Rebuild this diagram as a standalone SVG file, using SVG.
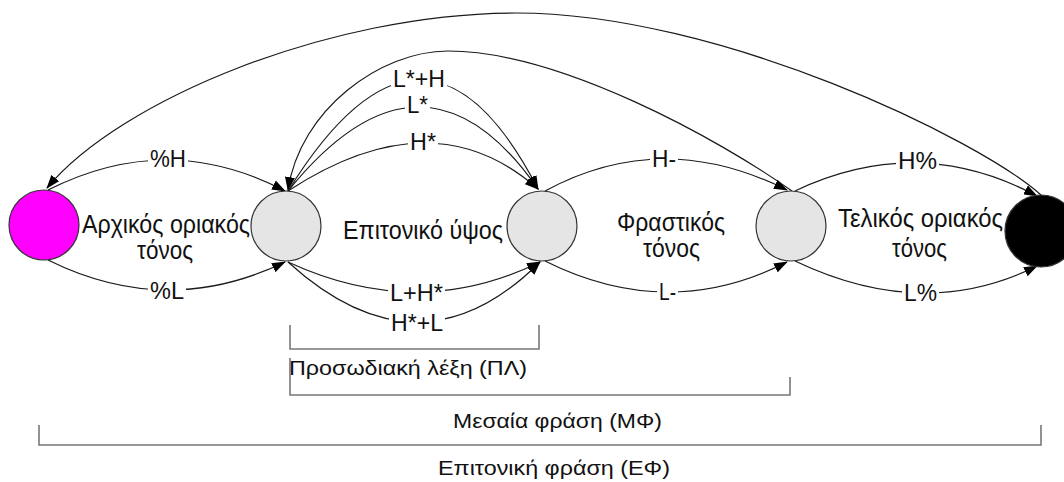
<svg xmlns="http://www.w3.org/2000/svg" width="1064" height="482" viewBox="0 0 1064 482">
<style>
.edge{fill:none;stroke:#1a1a1a;stroke-width:1.2}
.lbl{font-family:"Liberation Sans",Arial,sans-serif;font-size:24px;fill:#111}
.node-t{font-family:"Liberation Sans",Arial,sans-serif;font-size:25px;fill:#111}
.brk-t{font-family:"Liberation Sans",Arial,sans-serif;font-size:21px;fill:#111}
.bg{fill:#fff}
.brk{fill:none;stroke:#777;stroke-width:1.6}
.st{stroke:#333;stroke-width:1.2}
</style>
<defs>
<marker id="arr" markerWidth="14" markerHeight="10" refX="13" refY="5" orient="auto" markerUnits="userSpaceOnUse">
<path d="M0,0 L14,5 L0,10 z" fill="#000"/>
</marker>
</defs>
<rect width="1064" height="482" fill="#fff"/>
<g id="connectors">
<path class="edge" d="M1041,195 C980,140 720,13 516,13 C330,13 120,100 47,188" marker-end="url(#arr)"/>
<path class="edge" d="M792,191 C720,140 560,51 448,51 C380,51 300,110 288,190" marker-end="url(#arr)"/>
<path class="edge" d="M48,190 Q168,129.5 285,191" marker-end="url(#arr)"/>
<path class="edge" d="M48,260 Q167,319 285,262" marker-end="url(#arr)"/>
<path class="edge" d="M288,191 Q425,-30 538,189" marker-end="url(#arr)"/>
<path class="edge" d="M288,191 Q423,24 538,189" marker-end="url(#arr)"/>
<path class="edge" d="M288,191 Q433,96 538,189" marker-end="url(#arr)"/>
<path class="edge" d="M288,262 Q418,322 540,262" marker-end="url(#arr)"/>
<path class="edge" d="M288,262 Q420,382 540,262" marker-end="url(#arr)"/>
<path class="edge" d="M545,191 Q662,127.5 787,190" marker-end="url(#arr)"/>
<path class="edge" d="M545,261 Q668,322.5 787,262" marker-end="url(#arr)"/>
<path class="edge" d="M795,191 Q918,132.5 1037,196" marker-end="url(#arr)"/>
<path class="edge" d="M795,261 Q924,322.5 1037,266" marker-end="url(#arr)"/>
<g id="edge-labels">
<rect class="bg" x="148" y="147" width="40" height="22"/><text class="lbl" x="150" y="167" textLength="36" lengthAdjust="spacingAndGlyphs">%H</text>
<rect class="bg" x="391" y="67" width="56" height="22"/><text class="lbl" x="393" y="87" textLength="52" lengthAdjust="spacingAndGlyphs">L*+H</text>
<rect class="bg" x="405" y="96" width="25" height="19"/><text class="lbl" x="407" y="113" textLength="21" lengthAdjust="spacingAndGlyphs">L*</text>
<rect class="bg" x="408" y="131" width="30" height="21"/><text class="lbl" x="410" y="150" textLength="26" lengthAdjust="spacingAndGlyphs">H*</text>
<rect class="bg" x="650" y="147" width="28" height="22"/><text class="lbl" x="652" y="167" textLength="24" lengthAdjust="spacingAndGlyphs">H-</text>
<rect class="bg" x="896" y="149" width="43" height="22"/><text class="lbl" x="898" y="169" textLength="39" lengthAdjust="spacingAndGlyphs">H%</text>
<rect class="bg" x="148" y="279" width="38" height="22"/><text class="lbl" x="150" y="299" textLength="34" lengthAdjust="spacingAndGlyphs">%L</text>
<rect class="bg" x="388" y="281" width="57" height="22"/><text class="lbl" x="390" y="301" textLength="53" lengthAdjust="spacingAndGlyphs">L+H*</text>
<rect class="bg" x="389" y="311" width="56" height="22"/><text class="lbl" x="391" y="331" textLength="52" lengthAdjust="spacingAndGlyphs">H*+L</text>
<rect class="bg" x="657" y="280" width="21" height="22"/><text class="lbl" x="659" y="300" textLength="17" lengthAdjust="spacingAndGlyphs">L-</text>
<rect class="bg" x="902" y="281" width="37" height="22"/><text class="lbl" x="904" y="301" textLength="33" lengthAdjust="spacingAndGlyphs">L%</text>
</g>
</g>
<g id="label-initial">
<text class="node-t" x="82" y="233" textLength="168" lengthAdjust="spacingAndGlyphs">Αρχικός οριακός</text>
<text class="node-t" x="137" y="259" textLength="56" lengthAdjust="spacingAndGlyphs">τόνος</text>
</g>
<g id="label-pitch">
<text class="node-t" x="343" y="239" textLength="160" lengthAdjust="spacingAndGlyphs">Επιτονικό ύψος</text>
</g>
<g id="label-phrase">
<text class="node-t" x="617" y="231" textLength="108" lengthAdjust="spacingAndGlyphs">Φραστικός</text>
<text class="node-t" x="643" y="257" textLength="57" lengthAdjust="spacingAndGlyphs">τόνος</text>
</g>
<g id="label-final">
<text class="node-t" x="838" y="227" textLength="165" lengthAdjust="spacingAndGlyphs">Τελικός οριακός</text>
<text class="node-t" x="892" y="257" textLength="55" lengthAdjust="spacingAndGlyphs">τόνος</text>
</g>
<g id="state-start"><circle class="st" cx="44" cy="225" r="35" fill="#ff00ff"/></g>
<g id="state-accent"><circle class="st" cx="286" cy="226" r="35" fill="#e5e5e5"/></g>
<g id="state-phrase"><circle class="st" cx="542" cy="226" r="35" fill="#e5e5e5"/></g>
<g id="state-boundary"><circle class="st" cx="791" cy="226" r="35" fill="#e5e5e5"/></g>
<g id="state-end"><circle class="st" cx="1041" cy="231" r="36" fill="#000"/></g>
<g id="bracket-pl">
<path class="brk" d="M290,325 V349 H539 V325"/>
<text class="brk-t" x="289" y="375" textLength="238" lengthAdjust="spacingAndGlyphs">Προσωδιακή λέξη (ΠΛ)</text>
</g>
<g id="bracket-mf">
<path class="brk" d="M290,358 V395 H790 V377"/>
<text class="brk-t" x="453" y="428" textLength="209" lengthAdjust="spacingAndGlyphs">Μεσαία φράση (ΜΦ)</text>
</g>
<g id="bracket-ef">
<path class="brk" d="M39,425 V445 H1041 V425"/>
<text class="brk-t" x="438" y="475" textLength="232" lengthAdjust="spacingAndGlyphs">Επιτονική φράση (ΕΦ)</text>
</g>
</svg>
